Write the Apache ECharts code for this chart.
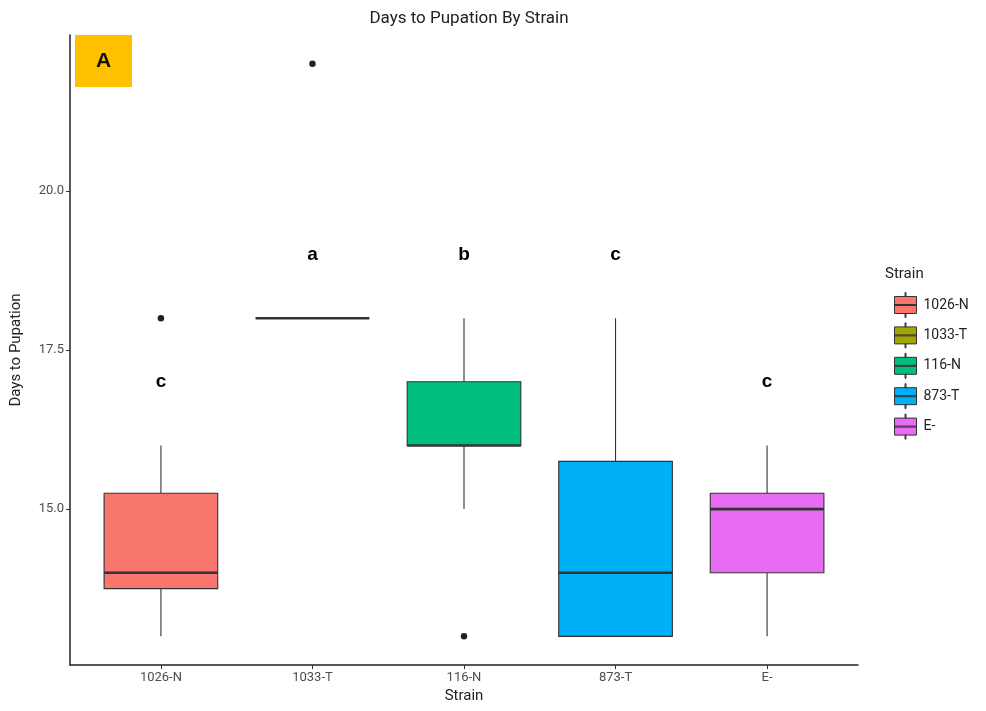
<!DOCTYPE html>
<html>
<head>
<meta charset="utf-8">
<script src="https://cdn.jsdelivr.net/npm/echarts@6/dist/echarts.min.js"></script>
<style>
  html, body { margin: 0; padding: 0; background: #fff; }
  #chart { width: 986px; height: 711px; }
</style>
</head>
<body>
<div id="chart"></div>
<script>
// Days to pupation per strain: five-number summaries, outliers and group letters
const categories = ['1026-N', '1033-T', '116-N', '873-T', 'E-'];
const colors = ['#F8766D', '#A3A500', '#00BF7D', '#00B0F6', '#E76BF3'];
const whiskerLow = [13, 18, 15, 13, 13];
const q1 = [13.75, 18, 16, 13, 14];
const median = [14, 18, 16, 14, 15];
const q3 = [15.25, 18, 17, 15.75, 15.25];
const whiskerHigh = [16, 18, 18, 18, 16];
const outlierStrain = [0, 1, 2];
const outlierValue = [18, 22, 13];
const letters = ['c', 'a', 'b', 'c', 'c'];
const letterValue = [17, 19, 19, 19, 17];
const yTicks = [15, 17.5, 20];

const tickFont = 'Liberation Sans Narrow, Roboto, sans-serif';
const mainFont = 'Roboto, Liberation Sans, sans-serif';

function renderBox(params, api) {
  const x = api.value(0);
  const lo = api.coord([x, api.value(1)]);
  const b1 = api.coord([x, api.value(2)]);
  const md = api.coord([x, api.value(3)]);
  const b3 = api.coord([x, api.value(4)]);
  const hi = api.coord([x, api.value(5)]);
  const halfW = api.size([0.75, 0])[0] / 2;
  const cx = md[0];
  const stroke = '#333333';
  const children = [];
  if (hi[1] < b3[1]) {
    children.push({ type: 'line', shape: { x1: cx, y1: hi[1], x2: cx, y2: b3[1] },
      style: { stroke: stroke, lineWidth: 1.1 } });
  }
  if (lo[1] > b1[1]) {
    children.push({ type: 'line', shape: { x1: cx, y1: b1[1], x2: cx, y2: lo[1] },
      style: { stroke: stroke, lineWidth: 1.1 } });
  }
  children.push({ type: 'rect',
    shape: { x: cx - halfW, y: b3[1], width: halfW * 2, height: b1[1] - b3[1] },
    style: { fill: api.visual('color'), stroke: stroke, lineWidth: 1.1 } });
  children.push({ type: 'line', shape: { x1: cx - halfW, y1: md[1], x2: cx + halfW, y2: md[1] },
    style: { stroke: stroke, lineWidth: 2.6 } });
  return { type: 'group', children: children };
}

const boxSeries = categories.map(function (name, i) {
  return {
    name: name,
    type: 'custom',
    renderItem: renderBox,
    itemStyle: { color: colors[i] },
    encode: { x: 0, y: [1, 2, 3, 4, 5] },
    data: [[i + 1, whiskerLow[i], q1[i], median[i], q3[i], whiskerHigh[i]]],
    z: 2
  };
});

const outlierSeries = {
  name: 'outliers',
  type: 'scatter',
  symbolSize: 6.5,
  itemStyle: { color: '#222222', opacity: 1 },
  data: outlierStrain.map(function (s, k) { return [s + 1, outlierValue[k]]; }),
  z: 3
};

const letterSeries = {
  name: 'groups',
  type: 'scatter',
  symbolSize: 0,
  itemStyle: { color: '#000', opacity: 1 },
  data: letters.map(function (l, i) { return [i + 1, letterValue[i]]; }),
  label: {
    show: true, position: 'inside',
    formatter: function (p) { return letters[p.dataIndex]; },
    fontSize: 19, fontWeight: 'bold', color: '#000', opacity: 1,
    fontFamily: 'Liberation Sans, Arial, sans-serif'
  },
  z: 4
};

const legendIcon = 'path://M0,4 L22,4 L22,21 L0,21 Z M0,12 L22,12 L22,13 L0,13 Z M10.5,0 L11.5,0 L11.5,4 L10.5,4 Z M10.5,21 L11.5,21 L11.5,25 L10.5,25 Z';

const chart = echarts.init(document.getElementById('chart'), null, { renderer: 'canvas' });
chart.setOption({
  animation: false,
  backgroundColor: '#ffffff',
  title: [
    { text: 'Days to Pupation By Strain', left: 464, top: 5, textAlign: 'center',
      textStyle: { fontSize: 17, fontWeight: 'normal', color: '#222', fontFamily: mainFont } },
    { text: 'Strain', left: 880, top: 262,
      textStyle: { fontSize: 15, fontWeight: 'normal', color: '#222', fontFamily: mainFont } }
  ],
  grid: { left: 70, right: 128, top: 35, bottom: 46, containLabel: false },
  legend: {
    data: categories,
    orient: 'vertical',
    left: 889, top: 287,
    icon: legendIcon,
    itemWidth: 22, itemHeight: 25, itemGap: 4.4,
    itemStyle: { borderColor: '#333', borderWidth: 1 },
    textStyle: { fontSize: 14, color: '#222', fontFamily: tickFont, padding: [0, 0, 0, 2] },
    selectedMode: false
  },
  xAxis: {
    type: 'value', min: 0.4, max: 5.6,
    name: 'Strain', nameLocation: 'middle', nameGap: 24,
    nameTextStyle: { fontSize: 15, color: '#222', fontFamily: tickFont },
    axisLine: { show: true, onZero: false, lineStyle: { color: '#222', width: 1.5 } },
    axisTick: { show: true, customValues: [1, 2, 3, 4, 5], length: 4, lineStyle: { color: '#333' } },
    axisLabel: { customValues: [1, 2, 3, 4, 5], margin: 6,
      formatter: function (v) { return categories[Math.round(v) - 1] || ''; },
      fontSize: 13, color: '#4d4d4d', fontFamily: tickFont },
    splitLine: { show: false }
  },
  yAxis: {
    type: 'value', min: 12.55, max: 22.45,
    name: 'Days to Pupation', nameLocation: 'middle', nameGap: 46,
    nameTextStyle: { fontSize: 15, color: '#222', fontFamily: tickFont },
    axisLine: { show: true, onZero: false, lineStyle: { color: '#222', width: 1.5 } },
    axisTick: { show: true, customValues: yTicks, length: 4, lineStyle: { color: '#333' } },
    axisLabel: { customValues: yTicks, margin: 6,
      formatter: function (v) { return v.toFixed(1); },
      fontSize: 13, color: '#4d4d4d', fontFamily: mainFont },
    splitLine: { show: false }
  },
  graphic: [
    { type: 'group', left: 75, top: 35, children: [
      { type: 'rect', shape: { x: 0, y: 0, width: 57, height: 52 }, style: { fill: '#FFC000' } },
      { type: 'text', x: 28.5, y: 26, style: { text: 'A', fontSize: 21, fontWeight: 'bold',
        fill: '#111', align: 'center', verticalAlign: 'middle', fontFamily: 'Liberation Sans, Arial, sans-serif' } }
    ] }
  ],
  series: boxSeries.concat([outlierSeries, letterSeries])
});
</script>
</body>
</html>
